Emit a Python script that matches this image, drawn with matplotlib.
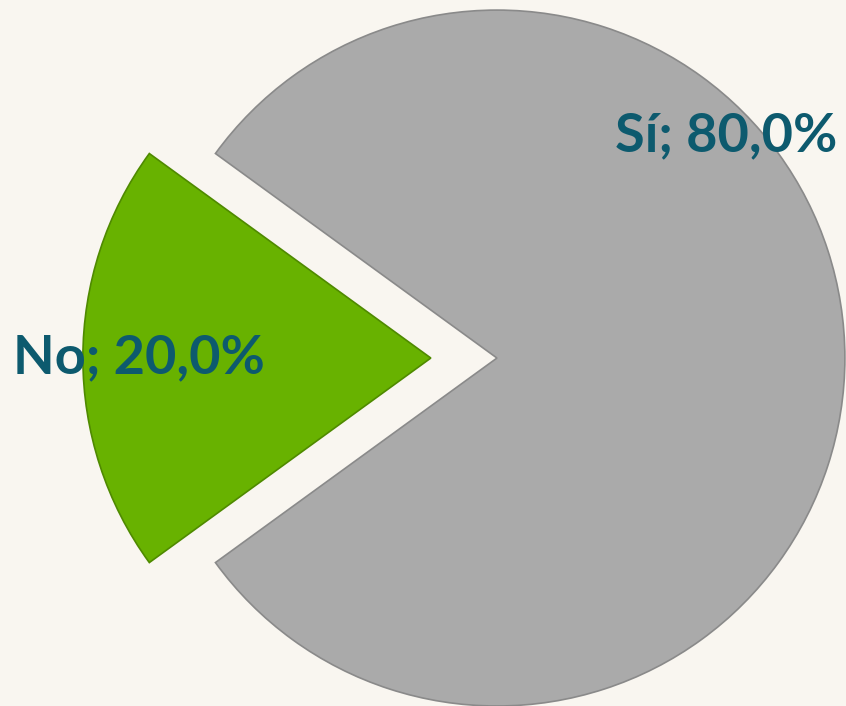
import matplotlib
matplotlib.use("Agg")
import matplotlib.pyplot as plt

# datos del gráfico
categorias = ["Sí", "No"]
porcentajes = [80.0, 20.0]
colores = ["#aaaaaa", "#68b200"]
bordes = ["#8a8a8a", "#4f8a00"]
separacion = [0.0, 0.19]

fondo = "#f9f6f0"
color_texto = "#0d5a6e"

fig = plt.figure(figsize=(8.46, 7.06), dpi=100, facecolor=fondo)
ax = fig.add_axes([0, 0, 1, 1])
ax.set_facecolor(fondo)

wedges, _ = ax.pie(porcentajes, colors=colores, explode=separacion,
                   startangle=216, counterclock=True, radius=1.0,
                   wedgeprops=dict(linewidth=1.2))
for w, b in zip(wedges, bordes):
    w.set_edgecolor(b)

# etiquetas "Categoría; xx,x%"
etiquetas = [f"{c}; {p:.1f}%".replace(".", ",") for c, p in zip(categorias, porcentajes)]
pos_etiquetas = [(0.66, 0.64), (-1.03, 0.0)]
for txt, (x, y) in zip(etiquetas, pos_etiquetas):
    ax.text(x, y, txt, ha="center", va="center", fontsize=39,
            fontweight="bold", family=["Lato", "DejaVu Sans"], color=color_texto)

ax.set_xlim(-1.428, 1.003)
ax.set_ylim(-1.0, 1.029)
ax.set_aspect("equal")
ax.axis("off")

plt.savefig("out.png", dpi=100, facecolor=fondo)
plt.close()
